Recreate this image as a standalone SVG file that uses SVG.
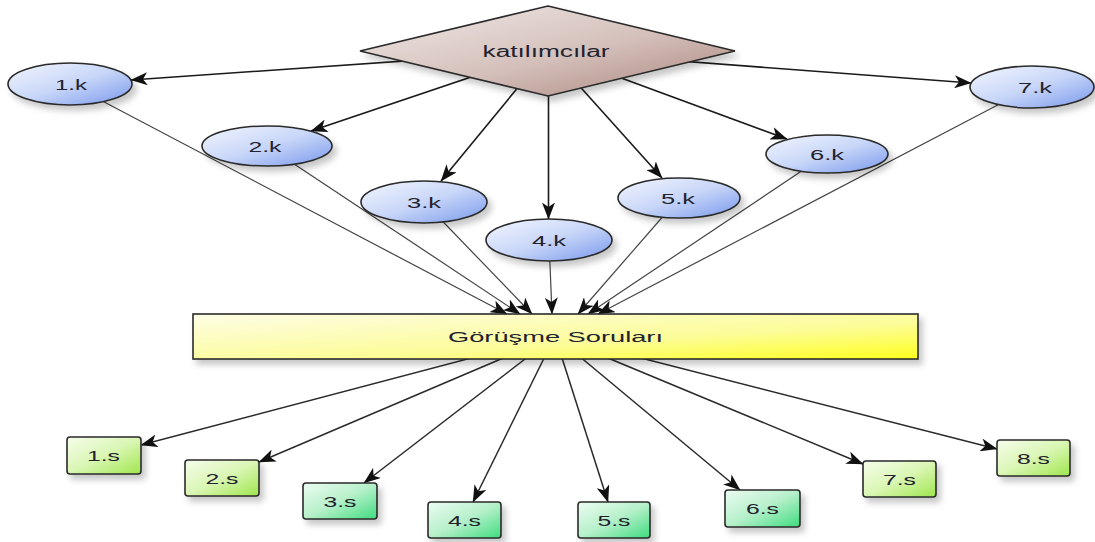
<svg xmlns="http://www.w3.org/2000/svg" width="1095" height="542" viewBox="0 0 1095 542">
<style>
.c1{stroke:#1a1a1a;stroke-width:1.6;fill:none}
.c2{stroke:#444;stroke-width:1.2;fill:none}
.c3{stroke:#2a2a2a;stroke-width:1.5;fill:none}
.node{stroke:#2a2a2a;stroke-width:1.6}
.lbl{font-family:"Liberation Sans",Arial,sans-serif;font-size:15.5px;fill:#22222e;text-anchor:middle}
.big{font-size:16px}
</style>
<defs>
<linearGradient id="gEll" x1="0" y1="0" x2="1" y2="1"><stop offset="0" stop-color="#f3f6fe"/><stop offset="0.5" stop-color="#c8d6f8"/><stop offset="1" stop-color="#7898ec"/></linearGradient>
<linearGradient id="gDia" x1="0" y1="0" x2="1" y2="1"><stop offset="0" stop-color="#f0eae8"/><stop offset="0.55" stop-color="#d4bfba"/><stop offset="1" stop-color="#a8827a"/></linearGradient>
<linearGradient id="gBox" x1="0" y1="0" x2="1" y2="1"><stop offset="0" stop-color="#fdfde6"/><stop offset="0.6" stop-color="#fcfc98"/><stop offset="1" stop-color="#ffff1e"/></linearGradient>
<linearGradient id="gLime" x1="0" y1="0" x2="1" y2="1"><stop offset="0" stop-color="#f6fdec"/><stop offset="0.5" stop-color="#daf6b4"/><stop offset="1" stop-color="#9ee64c"/></linearGradient>
<linearGradient id="gMint" x1="0" y1="0" x2="1" y2="1"><stop offset="0" stop-color="#ecfcf2"/><stop offset="0.5" stop-color="#b6f0ca"/><stop offset="1" stop-color="#3edc7e"/></linearGradient>
<filter id="sh" x="-20%" y="-30%" width="150%" height="180%"><feDropShadow dx="4" dy="5" stdDeviation="3" flood-color="#000" flood-opacity="0.22"/></filter>
<marker id="arr" viewBox="0 0 17 13" refX="16.5" refY="6.5" markerWidth="17" markerHeight="13" orient="auto" markerUnits="userSpaceOnUse"><path d="M0,0 L17,6.5 L0,13 L4.5,6.5 Z" fill="#111"/></marker>
</defs>
<rect width="1095" height="542" fill="#fff"/>
<g id="connectors">
<line class="c1" x1="548" y1="51" x2="131" y2="80" marker-end="url(#arr)"/>
<line class="c1" x1="548" y1="51" x2="311" y2="131" marker-end="url(#arr)"/>
<line class="c1" x1="548" y1="51" x2="441" y2="181" marker-end="url(#arr)"/>
<line class="c1" x1="548.5" y1="51" x2="548.5" y2="219" marker-end="url(#arr)"/>
<line class="c1" x1="548" y1="51" x2="662" y2="178" marker-end="url(#arr)"/>
<line class="c1" x1="548" y1="51" x2="787" y2="139" marker-end="url(#arr)"/>
<line class="c1" x1="548" y1="51" x2="971" y2="83" marker-end="url(#arr)"/>
<line class="c2" x1="70" y1="84" x2="507" y2="314" marker-end="url(#arr)"/>
<line class="c2" x1="267" y1="146" x2="520" y2="314" marker-end="url(#arr)"/>
<line class="c2" x1="424" y1="202" x2="532" y2="314" marker-end="url(#arr)"/>
<line class="c2" x1="549" y1="240" x2="552" y2="314" marker-end="url(#arr)"/>
<line class="c2" x1="679" y1="198" x2="578" y2="314" marker-end="url(#arr)"/>
<line class="c2" x1="827" y1="154" x2="588" y2="314" marker-end="url(#arr)"/>
<line class="c2" x1="1032" y1="87" x2="598" y2="314" marker-end="url(#arr)"/>
<line class="c3" x1="555" y1="336" x2="141" y2="445" marker-end="url(#arr)"/>
<line class="c3" x1="555" y1="336" x2="259" y2="462" marker-end="url(#arr)"/>
<line class="c3" x1="555" y1="336" x2="364" y2="483" marker-end="url(#arr)"/>
<line class="c3" x1="555" y1="336" x2="473" y2="502" marker-end="url(#arr)"/>
<line class="c3" x1="555" y1="336" x2="608" y2="502" marker-end="url(#arr)"/>
<line class="c3" x1="555" y1="336" x2="740" y2="490" marker-end="url(#arr)"/>
<line class="c3" x1="555" y1="336" x2="863" y2="464" marker-end="url(#arr)"/>
<line class="c3" x1="555" y1="336" x2="997" y2="449" marker-end="url(#arr)"/>
</g>
<g id="katilimcilar"><polygon class="node" points="548,6 735,51 548,96 360,51" fill="url(#gDia)" filter="url(#sh)"/><text class="lbl big" x="546" y="57" textLength="127" lengthAdjust="spacingAndGlyphs">katılımcılar</text></g>
<g id="k1"><ellipse class="node" cx="70" cy="84" rx="62" ry="21" fill="url(#gEll)" filter="url(#sh)"/><text class="lbl" x="71" y="89.5" textLength="32" lengthAdjust="spacingAndGlyphs">1.k</text></g>
<g id="k2"><ellipse class="node" cx="267" cy="146" rx="65" ry="20" fill="url(#gEll)" filter="url(#sh)"/><text class="lbl" x="265" y="151.5" textLength="33" lengthAdjust="spacingAndGlyphs">2.k</text></g>
<g id="k3"><ellipse class="node" cx="424" cy="202" rx="63" ry="21" fill="url(#gEll)" filter="url(#sh)"/><text class="lbl" x="424" y="207.5" textLength="34" lengthAdjust="spacingAndGlyphs">3.k</text></g>
<g id="k4"><ellipse class="node" cx="549" cy="240" rx="63" ry="21" fill="url(#gEll)" filter="url(#sh)"/><text class="lbl" x="549" y="245.5" textLength="34" lengthAdjust="spacingAndGlyphs">4.k</text></g>
<g id="k5"><ellipse class="node" cx="679" cy="198" rx="61" ry="20" fill="url(#gEll)" filter="url(#sh)"/><text class="lbl" x="678" y="203.5" textLength="34" lengthAdjust="spacingAndGlyphs">5.k</text></g>
<g id="k6"><ellipse class="node" cx="827" cy="154" rx="61" ry="19" fill="url(#gEll)" filter="url(#sh)"/><text class="lbl" x="827" y="159.5" textLength="34" lengthAdjust="spacingAndGlyphs">6.k</text></g>
<g id="k7"><ellipse class="node" cx="1032" cy="87" rx="62" ry="21" fill="url(#gEll)" filter="url(#sh)"/><text class="lbl" x="1035" y="92.5" textLength="34" lengthAdjust="spacingAndGlyphs">7.k</text></g>
<g id="sorular"><rect class="node" x="193" y="314" width="725" height="45" fill="url(#gBox)" filter="url(#sh)"/><text class="lbl" x="555.5" y="342" textLength="215" lengthAdjust="spacingAndGlyphs">Görüşme Soruları</text></g>
<g id="s1"><rect class="node" x="67" y="437" width="74" height="37" rx="3" fill="url(#gLime)" filter="url(#sh)"/><text class="lbl" x="103.5" y="461" textLength="33" lengthAdjust="spacingAndGlyphs">1.s</text></g>
<g id="s2"><rect class="node" x="185" y="460" width="74" height="36" rx="3" fill="url(#gLime)" filter="url(#sh)"/><text class="lbl" x="222" y="483.5" textLength="33" lengthAdjust="spacingAndGlyphs">2.s</text></g>
<g id="s3"><rect class="node" x="303" y="483" width="74" height="36" rx="3" fill="url(#gMint)" filter="url(#sh)"/><text class="lbl" x="340" y="506.5" textLength="33" lengthAdjust="spacingAndGlyphs">3.s</text></g>
<g id="s4"><rect class="node" x="428" y="502" width="73" height="36" rx="3" fill="url(#gMint)" filter="url(#sh)"/><text class="lbl" x="464.5" y="525.5" textLength="33" lengthAdjust="spacingAndGlyphs">4.s</text></g>
<g id="s5"><rect class="node" x="578" y="502" width="72" height="36" rx="3" fill="url(#gMint)" filter="url(#sh)"/><text class="lbl" x="614" y="525.5" textLength="33" lengthAdjust="spacingAndGlyphs">5.s</text></g>
<g id="s6"><rect class="node" x="725" y="490" width="75" height="37" rx="3" fill="url(#gMint)" filter="url(#sh)"/><text class="lbl" x="762.5" y="513.5" textLength="33" lengthAdjust="spacingAndGlyphs">6.s</text></g>
<g id="s7"><rect class="node" x="863" y="461" width="73" height="36" rx="3" fill="url(#gLime)" filter="url(#sh)"/><text class="lbl" x="899.5" y="484.5" textLength="33" lengthAdjust="spacingAndGlyphs">7.s</text></g>
<g id="s8"><rect class="node" x="997" y="440" width="73" height="36" rx="3" fill="url(#gLime)" filter="url(#sh)"/><text class="lbl" x="1033.5" y="463.5" textLength="33" lengthAdjust="spacingAndGlyphs">8.s</text></g>
</svg>
